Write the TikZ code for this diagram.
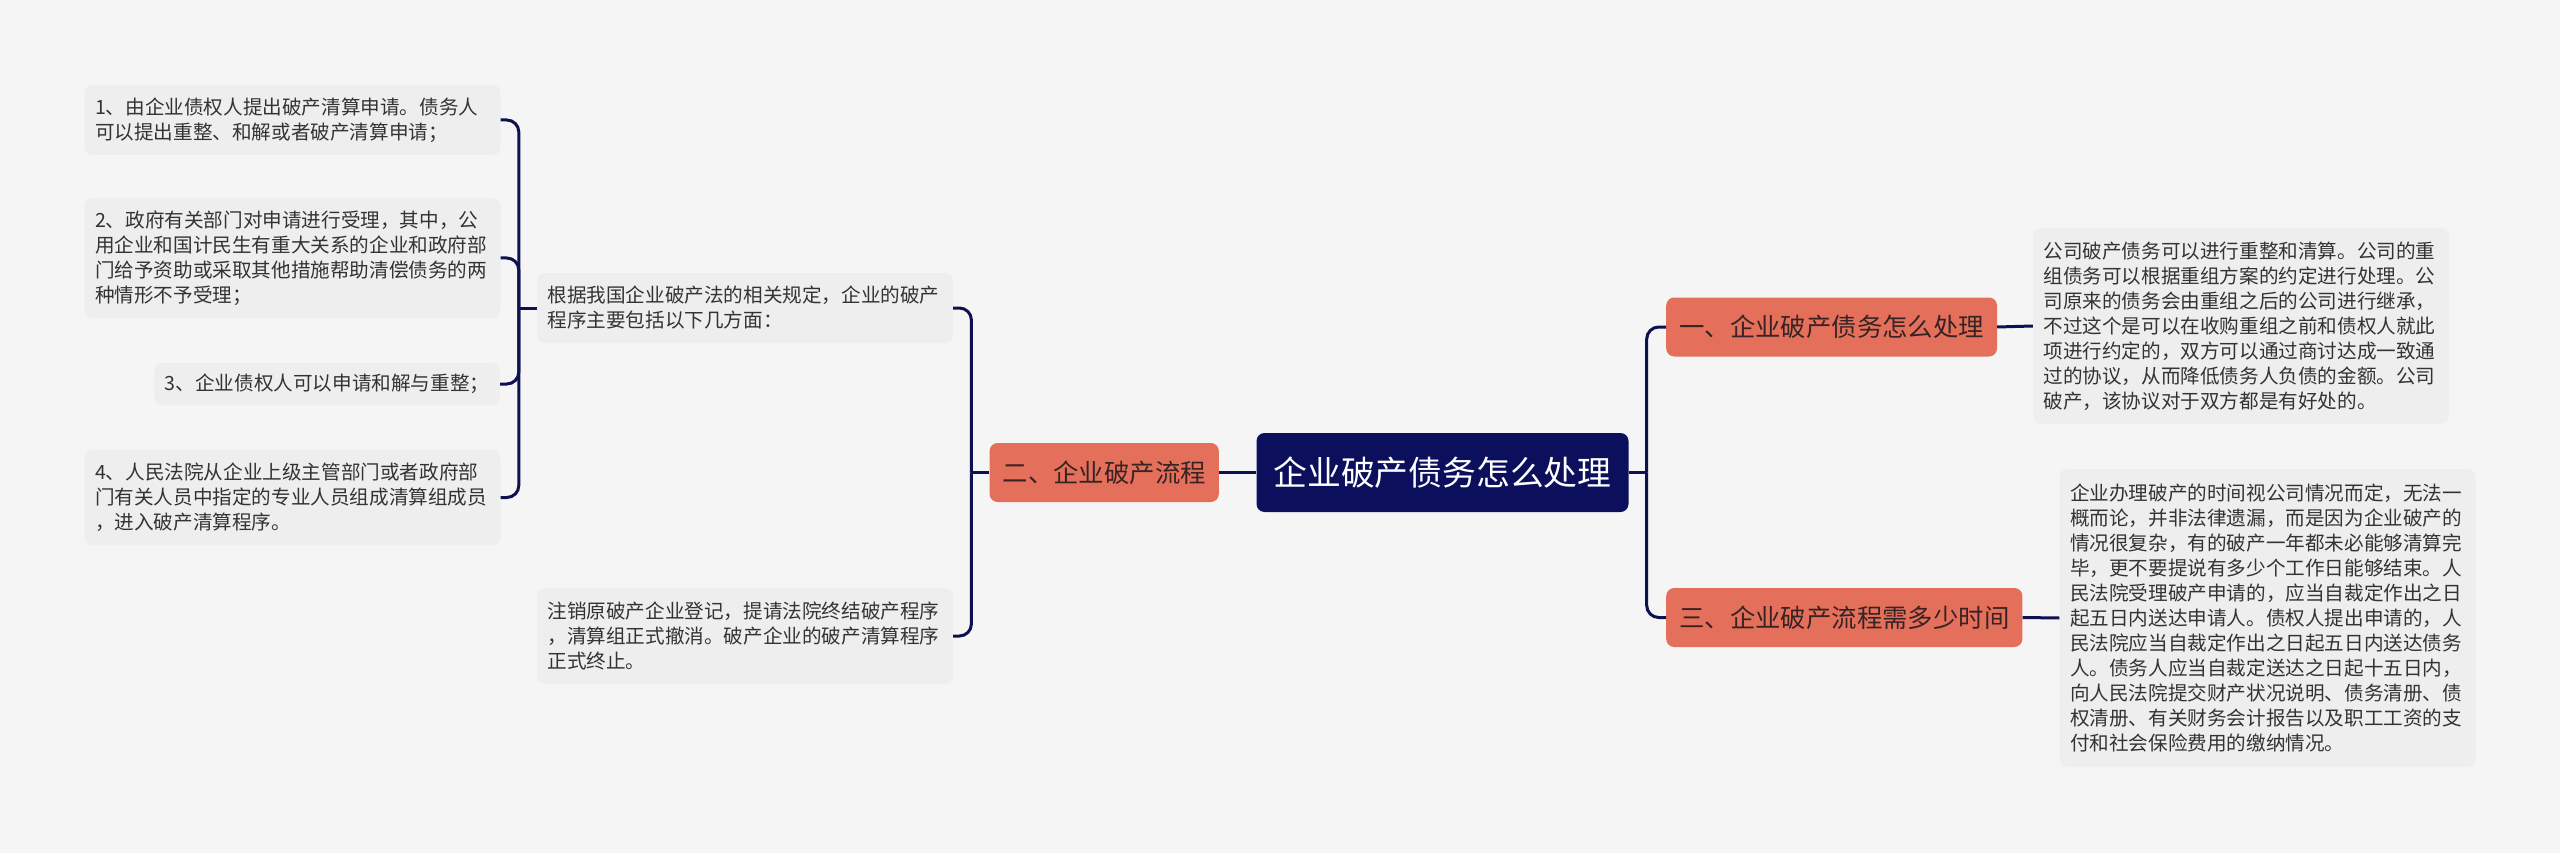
\documentclass[tikz,border=0pt]{standalone}
\usepackage{fontspec}
\setmainfont{Noto Sans CJK SC}
\usetikzlibrary{positioning,calc}
\definecolor{MapNavy}{RGB}{11,15,92}
\definecolor{MapSalmon}{RGB}{228,112,91}
\definecolor{MapLine}{RGB}{14,17,80}
\definecolor{MapPaper}{RGB}{245,245,245}
\definecolor{MapNote}{RGB}{238,238,238}
\definecolor{MapInk}{RGB}{51,51,51}
\definecolor{MapTopicInk}{RGB}{55,35,35}

\begin{document}
\begin{tikzpicture}[
  x=1pt, y=-1pt,
  root/.style={fill=MapNavy, rounded corners=8pt, text=white, inner xsep=17pt,
    inner ysep=2pt, minimum height=79pt, font=\fontsize{33.8}{40}\selectfont},
  topic/.style={fill=MapSalmon, rounded corners=8pt, text=MapTopicInk, inner xsep=13pt,
    inner ysep=2pt, minimum height=59pt, font=\fontsize{25.4}{30}\selectfont},
  note/.style={fill=MapNote, rounded corners=8pt, text=MapInk, align=left,
    text width=395pt, inner xsep=10.5pt, inner ysep=3pt, font=\fontsize{19.6}{25}\selectfont},
  shortnote/.style={note, text width=, align=left},
  link/.style={draw=MapLine, line width=3pt, rounded corners=12pt},
]
\path[use as bounding box, fill=MapPaper] (0,0) rectangle (2560,853);

\node[root] (root) at (1442.5,472.5) {企业破产债务怎么处理};

\node[topic, anchor=east] (flow) at (1219,472.5) {二、企业破产流程};
\node[topic, anchor=west] (debt) at (1666,327) {一、企业破产债务怎么处理};
\node[topic, anchor=west] (time) at (1666,617.5) {三、企业破产流程需多少时间};

\node[note, minimum height=196pt] (debtnote) at (2241,326)
  {公司破产债务可以进行重整和清算。公司的重\\
   组债务可以根据重组方案的约定进行处理。公\\
   司原来的债务会由重组之后的公司进行继承，\\
   不过这个是可以在收购重组之前和债权人就此\\
   项进行约定的，双方可以通过商讨达成一致通\\
   过的协议，从而降低债务人负债的金额。公司\\
   破产，该协议对于双方都是有好处的。};
\node[note, minimum height=298pt] (timenote) at (2267.5,618)
  {企业办理破产的时间视公司情况而定，无法一\\
   概而论，并非法律遗漏，而是因为企业破产的\\
   情况很复杂，有的破产一年都未必能够清算完\\
   毕，更不要提说有多少个工作日能够结束。人\\
   民法院受理破产申请的，应当自裁定作出之日\\
   起五日内送达申请人。债权人提出申请的，人\\
   民法院应当自裁定作出之日起五日内送达债务\\
   人。债务人应当自裁定送达之日起十五日内，\\
   向人民法院提交财产状况说明、债务清册、债\\
   权清册、有关财务会计报告以及职工工资的支\\
   付和社会保险费用的缴纳情况。};

\node[note, minimum height=70pt] (lawnote) at (745,308)
  {根据我国企业破产法的相关规定，企业的破产\\
   程序主要包括以下几方面：};
\node[note, minimum height=96pt] (endnote) at (745,636)
  {注销原破产企业登记，提请法院终结破产程序\\
   ，清算组正式撤消。破产企业的破产清算程序\\
   正式终止。};

\node[note, minimum height=70pt] (stepa) at (292.5,120)
  {1、由企业债权人提出破产清算申请。债务人\\
   可以提出重整、和解或者破产清算申请；};
\node[note, minimum height=120pt] (stepb) at (292.5,258)
  {2、政府有关部门对申请进行受理，其中，公\\
   用企业和国计民生有重大关系的企业和政府部\\
   门给予资助或采取其他措施帮助清偿债务的两\\
   种情形不予受理；};
\node[shortnote, minimum height=42pt, anchor=east] (stepc) at (500,384)
  {3、企业债权人可以申请和解与重整；};
\node[note, minimum height=95pt] (stepd) at (292.5,497.5)
  {4、人民法院从企业上级主管部门或者政府部\\
   门有关人员中指定的专业人员组成清算组成员\\
   ，进入破产清算程序。};

\draw[link] (root.west) -- (flow.east);
\draw[link] (flow.west) -- ++(-18,0) coordinate (flowj);
\draw[link] (flowj) |- (lawnote.east);
\draw[link] (flowj) |- (endnote.east);

\draw[link] (lawnote.west) -- ++(-18,0) coordinate (lawj);
\foreach \s in {stepa,stepb,stepc,stepd}
  \draw[link] (lawj) |- (\s.east);

\draw[link] (root.east) -- ++(18,0) coordinate (rootj);
\draw[link] (rootj) |- (debt.west);
\draw[link] (rootj) |- (time.west);
\draw[link] (debt.east) -- (debtnote.west);
\draw[link] (time.east) -- (timenote.west);
\end{tikzpicture}
\end{document}
